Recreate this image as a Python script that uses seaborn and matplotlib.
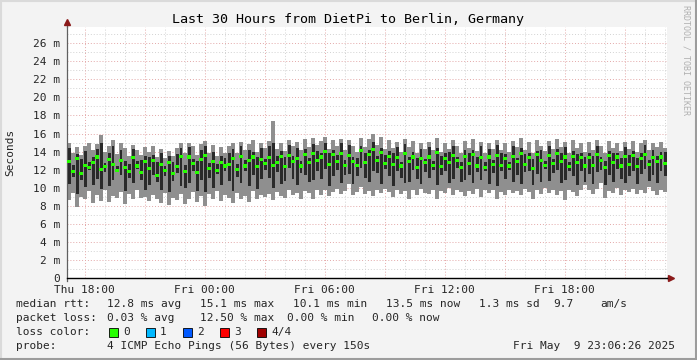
import numpy as np
import pandas as pd
import matplotlib
matplotlib.use("Agg")
import matplotlib.pyplot as plt
from matplotlib.lines import Line2D
from matplotlib.patches import Rectangle
import seaborn as sns

# smoke columns, 12 min each, values in ms
rtt_max = [
    14.9, 13.8, 14.5, 13.6, 14.6, 15.0, 14.2, 14.8, 15.8, 13.9,
    14.6, 15.3, 13.7, 14.9, 14.4, 13.5, 14.7, 14.2, 13.6, 14.5,
    14.0, 14.6, 13.4, 14.3, 13.3, 14.1, 13.5, 14.4, 14.9, 13.8,
    15.0, 14.6, 13.6, 14.8, 15.2, 13.9, 14.7, 13.5, 14.5, 13.8,
    14.6, 14.9, 13.9, 15.1, 14.2, 14.8, 15.3, 14.0, 15.0, 14.4,
    15.2, 17.4, 14.3, 15.0, 14.1, 15.3, 14.6, 15.1, 14.2, 15.4,
    14.5, 15.5, 14.7, 15.2, 15.6, 14.3, 15.3, 14.6, 15.4, 14.2,
    15.3, 14.6, 14.0, 15.5, 14.5, 15.4, 15.9, 14.7, 15.6, 14.3,
    15.3, 14.4, 15.1, 14.0, 15.4, 14.5, 15.2, 13.9, 15.0, 14.3,
    15.1, 14.2, 15.5, 14.0, 15.0, 14.3, 15.3, 14.6, 13.9, 15.2,
    14.4, 15.4, 14.1, 15.1, 13.9, 15.0, 14.3, 15.3, 14.2, 15.0,
    14.0, 15.2, 14.5, 15.5, 14.2, 15.1, 13.8, 15.3, 14.6, 14.1,
    15.2, 14.3, 15.4, 14.5, 15.1, 13.9, 15.3, 14.4, 15.0, 14.0,
    15.1, 14.2, 15.3, 14.6, 13.9, 15.2, 14.4, 15.0, 14.1, 15.1,
    14.3, 15.2, 14.0, 14.9, 15.3, 14.2, 15.0, 14.5, 15.1, 14.4,
]
rtt_min = [
    8.6, 9.4, 7.9, 9.0, 8.8, 9.6, 8.3, 9.2, 8.5, 9.8,
    8.4, 9.1, 8.9, 9.5, 8.2, 9.3, 8.7, 9.7, 8.9, 9.0,
    8.5, 9.2, 8.8, 8.3, 9.4, 8.1, 8.9, 8.6, 9.3, 8.2,
    8.7, 9.5, 8.4, 9.1, 8.0, 9.3, 8.8, 9.6, 8.5, 9.2,
    8.9, 8.3, 9.4, 8.7, 9.1, 8.4, 9.6, 8.8, 9.2, 9.0,
    9.3, 8.6, 9.5, 9.1, 8.9, 9.7, 9.2, 9.4, 8.8, 9.6,
    9.4, 8.7, 9.7, 9.2, 9.8, 9.1, 9.5, 9.9, 9.3, 9.6,
    10.4, 9.2, 9.5, 10.1, 9.3, 9.6, 9.1, 9.8, 9.4, 9.9,
    9.5, 9.0, 9.8, 9.3, 9.6, 8.8, 9.7, 9.2, 9.9, 9.4,
    9.3, 9.8, 8.7, 9.6, 9.4, 10.0, 9.2, 9.7, 9.5, 9.1,
    9.6, 9.3, 9.9, 9.0, 9.7, 9.4, 9.8, 8.7, 9.5, 9.2,
    9.8, 9.4, 9.6, 9.2, 9.9, 9.5, 8.8, 9.7, 9.3, 10.0,
    9.4, 9.8, 9.2, 9.6, 8.6, 9.7, 9.5, 9.1, 9.8, 10.3,
    9.7, 9.3, 9.9, 10.5, 8.9, 9.6, 9.4, 10.0, 9.2, 9.8,
    9.5, 9.9, 9.3, 9.7, 9.4, 10.1, 9.6, 9.2, 9.8, 9.5,
]
rtt_q1 = [
    10.4, 11.2, 9.3, 10.8, 10.1, 12.0, 10.3, 11.0, 9.9, 11.7,
    10.2, 10.9, 11.8, 11.4, 9.6, 11.1, 10.5, 12.1, 10.8, 9.8,
    10.3, 11.4, 10.6, 9.7, 11.3, 9.5, 10.7, 11.6, 10.2, 10.0,
    10.5, 11.9, 9.6, 10.9, 9.5, 11.1, 10.0, 11.5, 10.3, 11.9,
    10.7, 9.6, 11.2, 10.5, 11.8, 10.2, 11.4, 9.9, 11.0, 12.0,
    11.1, 10.0, 11.7, 10.4, 10.7, 12.2, 11.0, 10.3, 11.6, 11.4,
    10.6, 10.8, 11.9, 11.0, 12.1, 10.2, 11.3, 12.0, 10.5, 11.4,
    11.5, 10.4, 11.3, 12.2, 11.1, 10.6, 11.8, 11.6, 10.4, 12.1,
    11.3, 10.2, 11.9, 11.1, 10.5, 10.6, 12.0, 11.0, 10.4, 11.7,
    11.1, 12.0, 10.3, 11.4, 11.9, 10.5, 11.0, 12.2, 10.6, 10.9,
    11.4, 10.5, 11.7, 10.8, 11.9, 10.4, 11.6, 10.2, 11.8, 11.0,
    12.0, 10.6, 11.4, 10.4, 11.7, 11.9, 10.3, 11.5, 10.6, 12.1,
    10.7, 11.6, 12.0, 10.5, 10.8, 11.8, 11.3, 10.3, 11.9, 10.6,
    11.5, 10.4, 11.7, 12.0, 10.3, 11.4, 10.6, 12.1, 11.0, 10.5,
    11.3, 11.9, 10.4, 11.5, 12.1, 10.7, 11.4, 10.5, 11.9, 11.3,
]
rtt_q3 = [
    14.4, 12.5, 13.7, 13.2, 14.1, 12.8, 13.4, 14.3, 14.9, 12.7,
    13.8, 14.6, 12.4, 14.2, 13.0, 12.6, 14.3, 13.0, 13.1, 13.5,
    13.4, 13.6, 12.9, 13.9, 12.4, 13.5, 12.8, 13.7, 14.4, 12.5,
    14.5, 13.2, 13.0, 14.2, 14.6, 12.7, 14.0, 12.6, 13.5, 13.3,
    13.9, 14.3, 12.6, 14.6, 13.1, 14.2, 14.0, 13.4, 14.4, 13.2,
    14.6, 14.9, 13.5, 14.1, 13.4, 14.7, 13.5, 14.4, 13.0, 14.3,
    13.3, 14.8, 14.1, 13.9, 15.0, 13.8, 14.2, 13.6, 14.9, 13.1,
    14.7, 13.4, 13.3, 14.6, 13.9, 14.2, 15.1, 13.5, 14.4, 13.6,
    14.1, 13.8, 14.5, 12.9, 14.8, 13.4, 14.0, 13.3, 14.3, 13.2,
    14.5, 13.0, 14.4, 13.5, 13.8, 14.0, 14.6, 13.4, 12.9, 14.2,
    13.9, 14.2, 13.4, 14.6, 12.8, 14.3, 13.1, 14.7, 13.8, 13.7,
    12.9, 14.6, 13.3, 14.4, 13.7, 13.8, 13.2, 14.1, 14.2, 13.0,
    14.6, 13.2, 14.3, 13.9, 14.5, 12.9, 14.1, 13.7, 13.8, 13.4,
    13.8, 13.5, 14.6, 13.4, 13.0, 14.1, 13.9, 13.8, 13.3, 14.5,
    13.6, 14.1, 13.3, 13.8, 14.7, 13.1, 14.2, 13.5, 14.0, 13.9,
]
rtt_median = [
    12.9, 11.8, 13.2, 11.6, 12.5, 12.2, 12.8, 13.4, 12.0, 12.3,
    13.1, 12.6, 11.9, 13.0, 12.2, 11.8, 13.3, 12.4, 11.7, 12.9,
    12.1, 13.0, 11.4, 12.6, 11.9, 12.8, 11.6, 12.3, 13.5, 11.8,
    13.4, 12.7, 11.7, 13.1, 13.6, 12.1, 12.9, 11.9, 12.8, 12.4,
    12.6, 13.2, 12.0, 13.5, 12.4, 13.0, 13.4, 12.3, 13.1, 12.7,
    13.3, 12.5, 12.8, 13.5, 12.3, 13.6, 12.9, 13.2, 12.4, 13.7,
    12.8, 13.8, 13.0, 13.4, 14.0, 12.6, 13.7, 12.9, 13.8, 12.5,
    13.6, 12.9, 12.5, 14.1, 12.8, 13.7, 14.2, 13.0, 13.9, 12.7,
    13.5, 12.6, 13.3, 12.4, 13.8, 12.9, 13.4, 12.2, 13.2, 12.8,
    13.4, 12.5, 13.9, 12.3, 13.2, 12.8, 13.6, 13.0, 12.2, 13.5,
    12.7, 13.7, 12.4, 13.3, 12.2, 13.4, 12.6, 13.6, 12.5, 13.2,
    12.4, 13.5, 12.9, 13.8, 12.6, 13.3, 12.1, 13.7, 13.0, 12.5,
    13.6, 12.7, 13.8, 12.9, 13.4, 12.3, 13.5, 12.8, 13.3, 12.4,
    13.3, 12.5, 13.7, 13.0, 12.2, 13.6, 12.8, 13.4, 12.4, 13.5,
    12.6, 13.6, 12.3, 13.2, 13.7, 12.6, 13.3, 12.9, 13.4, 12.7,
]

y_ticks = list(range(0, 27, 2))
y_labels = ["0"] + [f"{v} m" for v in y_ticks[1:]]

loss_labels = ["0", "1", "2", "3", "4/4"]
loss_colors = ["#26ff00", "#00b8ff", "#0059ff", "#ff0000", "#a00000"]

t_start = pd.Timestamp("2025-05-08 17:06:26")
t_end = pd.Timestamp("2025-05-09 23:06:26")
step = pd.Timedelta(minutes=12)
times = t_start + step / 2 + step * np.arange(len(rtt_max))
df = pd.DataFrame({"time": times, "min": rtt_min, "q1": rtt_q1,
                   "median": rtt_median, "q3": rtt_q3, "max": rtt_max})

sns.set_theme(style="white")
plt.rcParams["font.family"] = ["DejaVu Sans Mono"]

W, H = 697, 360
fig = plt.figure(figsize=(W / 100, H / 100), dpi=100, facecolor="#f3f3f3")
ax = fig.add_axes([67 / W, 82 / H, 600 / W, 251 / H])
ax.set_facecolor("white")

# grid
grid_red = "#e3a8a8"
grid_gray = "#d2d2d2"
dots = (0, (1, 2))
for h in np.arange(0, 28, 1):
    ax.axhline(h, color=grid_red if h % 2 == 0 else grid_gray, lw=0.7, ls=dots, zorder=0)
hours = pd.date_range("2025-05-08 18:00", "2025-05-09 23:00", freq="1h")
for t in hours:
    ax.axvline(t, color=grid_red if t.hour % 3 == 0 else grid_gray, lw=0.7, ls=dots, zorder=0)

width = step / pd.Timedelta(days=1)
ax.bar(df["time"], df["max"] - df["min"], bottom=df["min"], width=width,
       color="#8f8f8f", linewidth=0, zorder=2)
ax.bar(df["time"], df["q3"] - df["q1"], bottom=df["q1"], width=width * 0.75,
       color="#2a2a2a", linewidth=0, zorder=3)
sns.scatterplot(data=df, x="time", y="median", ax=ax, marker="s", s=5,
                color=loss_colors[0], edgecolor="none", zorder=4, legend=False)

ax.set_xlim(t_start, t_end)
ax.set_ylim(0, 27.8)
ax.set_yticks(y_ticks)
ax.set_yticklabels(y_labels)
xt = pd.date_range("2025-05-08 18:00", "2025-05-09 21:00", freq="3h")
ax.set_xticks(xt)
ax.set_xticklabels([t.strftime("%a %H:%M") if t.hour % 6 == 0 else "" for t in xt])
ax.tick_params(axis="y", length=3, width=0.7, color="#606060", pad=2, labelsize=8)
ax.tick_params(axis="x", length=4, width=0.7, color=grid_red, pad=1, labelsize=8)
ax.set_xlabel("")
ax.set_ylabel("")
for s in ["top", "right"]:
    ax.spines[s].set_visible(False)
ax.spines["left"].set_color("#606060")
ax.spines["left"].set_linewidth(0.9)
ax.spines["bottom"].set_color("black")
ax.spines["bottom"].set_linewidth(1.0)
ax.spines["left"].set_bounds(-0.3, 27.8)

# axis arrows
ax.plot([0, 0], [1.0, 1.018], transform=ax.transAxes, color="#606060", lw=0.9, clip_on=False)
ax.plot([0], [1.02], transform=ax.transAxes, marker="^", ms=4.5, color="#8b1a1a", clip_on=False)
ax.plot([1.0, 1.003], [0, 0], transform=ax.transAxes, color="black", lw=1.0, clip_on=False)
ax.plot([1.006], [0], transform=ax.transAxes, marker=">", ms=4.5, color="#8b1a1a", clip_on=False)

def px(x, y):
    return x / W, 1 - y / H

fig.text(*px(348, 19), "Last 30 Hours from DietPi to Berlin, Germany",
         ha="center", va="center", fontsize=9.6, color="black")
fig.text(*px(10, 152), "Seconds", rotation=90, ha="center", va="center", fontsize=8)
fig.text(*px(686, 60), "RRDTOOL / TOBI OETIKER", rotation=270, ha="center",
         va="center", fontsize=6, color="#b0b0b0")

fs = 8
row1 = [(16, "median rtt:"), (107, "12.8 ms avg"), (200, "15.1 ms max"),
        (293, "10.1 ms min"), (386, "13.5 ms now"), (479, "1.3 ms sd"),
        (553, "9.7"), (600, "am/s")]
for x, s in row1:
    fig.text(*px(x, 304), s, ha="left", va="center", fontsize=fs)
row2 = [(16, "packet loss:"), (107, "0.03 % avg"), (200, "12.50 % max"),
        (287, "0.00 % min"), (372, "0.00 % now")]
for x, s in row2:
    fig.text(*px(x, 318), s, ha="left", va="center", fontsize=fs)
fig.text(*px(16, 332), "loss color:", ha="left", va="center", fontsize=fs)
for i, (lab, col) in enumerate(zip(loss_labels, loss_colors)):
    x0 = 109 + 37 * i
    fig.patches.append(Rectangle((x0 / W, 1 - 337 / H), 9 / W, 9 / H,
                                 transform=fig.transFigure, facecolor=col,
                                 edgecolor="black", lw=0.6))
    fig.text(*px(x0 + 14, 332), lab, ha="left", va="center", fontsize=fs)
fig.text(*px(16, 346), "probe:", ha="left", va="center", fontsize=fs)
fig.text(*px(107, 346), "4 ICMP Echo Pings (56 Bytes) every 150s",
         ha="left", va="center", fontsize=fs)
fig.text(*px(513, 346), "Fri May  9 23:06:26 2025", ha="left", va="center", fontsize=fs)

# frame
for xs, ys, c in [([0, 1], [0.998, 0.998], "#dadada"), ([0.001, 0.001], [0, 1], "#dadada"),
                  ([0, 1], [0.003, 0.003], "#9c9c9c"), ([0.998, 0.998], [0, 1], "#9c9c9c")]:
    fig.lines.append(Line2D(xs, ys, transform=fig.transFigure, color=c, lw=1.5))

fig.savefig("out.png", dpi=100, facecolor=fig.get_facecolor())
